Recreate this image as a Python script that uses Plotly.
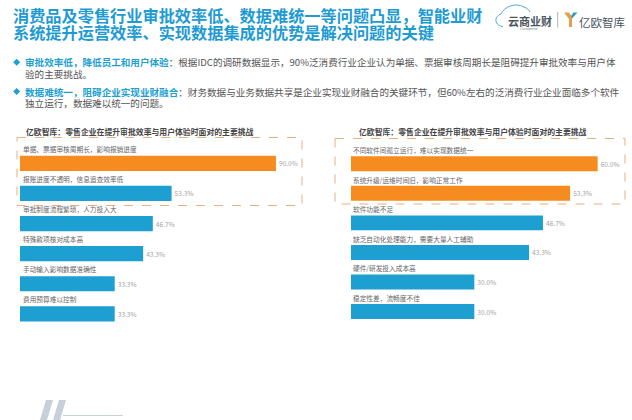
import plotly.graph_objects as go

FONT = "Noto Sans CJK SC"
W, H = 632, 420
BLUE = "#1D9FD2"
ORANGE = "#F68B1F"
TITLE_BLUE = "#1E9BD3"

left_categories = ["单据、票据审核周期长，影响报销进度", "报账进度不透明，信息追查效率低", "审批制度流程繁琐，人力投入大",
                   "特殊款项核对成本高", "手动输入影响数据准确性", "费用预算难以控制"]
left_values = [90.0, 53.3, 46.7, 43.3, 33.3, 33.3]
left_highlighted = 1
right_categories = ["不同软件间孤立运行，难以实现数据统一", "系统升级/运维时间旧，影响正常工作", "软件功能不足",
                    "缺乏自动化处理能力，需要大量人工辅助", "硬件/研发投入成本高", "稳定性差，流畅度不佳"]
right_values = [60.0, 53.3, 46.7, 43.3, 30.0, 30.0]
right_highlighted = 2
chart_title = "亿欧智库：零售企业在提升审批效率与用户体验时面对的主要挑战"

fig = go.Figure()
def colors(vals, n):
    return [ORANGE if i < n else BLUE for i in range(len(vals))]

VALUE_FONT = dict(size=6.6, color="#A3A3A3", family=FONT)
fig.add_bar(y=left_categories, x=left_values, orientation="h", xaxis="x", yaxis="y",
            marker=dict(color=colors(left_values, left_highlighted), line_width=0), texttemplate="%{x:.1f}%", textposition="outside",
            textfont=VALUE_FONT, cliponaxis=False, showlegend=False)
fig.add_bar(y=right_categories, x=right_values, orientation="h", xaxis="x2", yaxis="y2",
            marker=dict(color=colors(right_values, right_highlighted), line_width=0), texttemplate="%{x:.1f}%", textposition="outside",
            textfont=VALUE_FONT, cliponaxis=False, showlegend=False)

def hdom(a, b): return [a / W, b / W]
def vdom(top, bottom): return [1 - bottom / H, 1 - top / H]

hidden = dict(visible=False, showgrid=False, zeroline=False, fixedrange=True)
annotations, shapes = [], []

def px_text(x, y, text, size, color="#555555", anchor="left"):
    annotations.append(dict(xref="x3", yref="y3", x=x, y=y, text=text, showarrow=False, xanchor=anchor, yanchor="middle",
                            align="left", borderpad=0, font=dict(size=size, color=color, family=FONT)))

# titles
px_text(12, 15, "<b>消费品及零售行业审批效率低、数据难统一等问题凸显，智能业财</b>", 16.2, TITLE_BLUE)
px_text(12, 32, "<b>系统提升运营效率、实现数据集成的优势是解决问题的关键</b>", 16.2, TITLE_BLUE)

# bullets
for y in (62.3, 91.5):
    shapes.append(dict(type="path", xref="x3", yref="y3", path=f"M13.2 {y} L16.7 {y-3.5} L20.2 {y} L16.7 {y+3.5} Z",
                       fillcolor=BLUE, line_width=0))
SPAN = '<span style="color:%s"><b>%%s</b></span>' % BLUE
px_text(23.5, 62.3, SPAN % "审批效率低，降低员工和用户体验" + "：根据IDC的调研数据显示，90%泛消费行业企业认为单据、票据审核周期长是阻碍提升审批效率与用户体", 9.58)
px_text(23.5, 73.7, "验的主要挑战。", 9.58)
px_text(23.5, 91.5, SPAN % "数据难统一，阻碍企业实现业财融合" + "：财务数据与业务数据共享是企业实现业财融合的关键环节，但60%左右的泛消费行业企业面临多个软件", 9.58)
px_text(23.5, 103.3, "独立运行，数据难以统一的问题。", 9.58)

# chart titles
px_text(25, 131, f"<b>{chart_title}</b>", 7.85, "#444444")
px_text(358, 131, f"<b>{chart_title}</b>", 7.85, "#444444")

# category labels
for cats, xr, yr, shift, dx in ((left_categories, "x", "y", 14.5, 2), (right_categories, "x2", "y2", 13.5, 1)):
    for c in cats:
        annotations.append(dict(xref=xr, yref=yr, x=0, y=c, text=c, showarrow=False, xanchor="left", xshift=dx,
                                yshift=shift, yanchor="middle", borderpad=0, font=dict(size=6.7, color="#666666", family=FONT)))

# dashed boxes
for x0, x1, y0, y1 in ((17, 302, 137.5, 205.5), (335, 625, 138.5, 204)):
    shapes.append(dict(type="rect", xref="x3", yref="y3", x0=x0, x1=x1, y0=y0, y1=y1,
                       line=dict(color="#EBAE80", width=1, dash="dash")))

# logo
shapes.append(dict(type="path", xref="x3", yref="y3",
                   path="M503 26.5 C495 26 493 17 501 14 C504 7 515 2 524 7 C527 8 529 10 530 12",
                   line=dict(color="#4FA9D8", width=1)))
shapes.append(dict(type="line", xref="x3", yref="y3", x0=557.7, x1=557.7, y0=12, y1=27.5, line=dict(color="#9AA0A6", width=0.8)))
shapes.append(dict(type="path", xref="x3", yref="y3", path="M564 12.5 L569 12.5 L572 17 L572 27 L569 27 L569 19 Z",
                   fillcolor="#E5A04A", line_width=0))
shapes.append(dict(type="path", xref="x3", yref="y3", path="M577.5 12.5 L573.5 12.5 L571 16 L572 18.5 Z",
                   fillcolor="#2E9FB8", line_width=0))
px_text(507, 20.5, "<b>云商业财</b>", 11, "#4A5560")
px_text(578, 21.5, "亿欧智库", 11.5, "#4A5560")
px_text(519, 28, "Cloudpense", 3.2, "#888888")

# bottom decoration
for x in (40, 53):
    shapes.append(dict(type="path", xref="x3", yref="y3", path=f"M{x+6} 400 L{x+13} 400 L{x+7} 420 L{x} 420 Z",
                       fillcolor="#C6CFDA", line_width=0))
shapes.append(dict(type="line", xref="x3", yref="y3", x0=63, x1=123, y0=415.5, y1=415.5, line=dict(color="#C6CFDA", width=1)))

fig.update_layout(
    width=W, height=H, margin=dict(l=0, r=0, t=0, b=0), autosize=False, paper_bgcolor="white", plot_bgcolor="rgba(0,0,0,0)",
    bargap=0.494, font=dict(family=FONT), annotations=annotations, shapes=shapes,
    xaxis=dict(domain=hdom(20, 300), range=[0, 280 / 2.844], anchor="y", **hidden),
    yaxis=dict(domain=vdom(148.35, 334.35), autorange="reversed", anchor="x", type="category", **hidden),
    xaxis2=dict(domain=hdom(351, 625), range=[0, 274 / 4.111], anchor="y2", **hidden),
    yaxis2=dict(domain=vdom(149, 331), autorange="reversed", anchor="x2", type="category", **hidden),
    xaxis3=dict(domain=[0, 1], range=[0, W], anchor="y3", **hidden),
    yaxis3=dict(domain=[0, 1], range=[H, 0], anchor="x3", **hidden),
)
fig.write_html("out.html", config=dict(displayModeBar=False), post_script="document.body.style.margin='0';")
